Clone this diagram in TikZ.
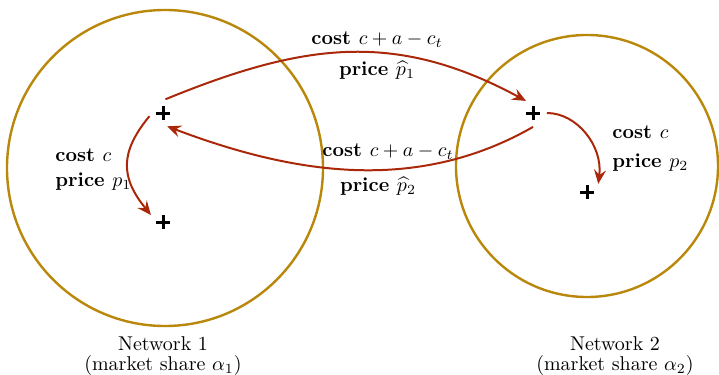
\documentclass[tikz,border=0pt]{standalone}
\usepackage{amsmath}
\usepackage{tikz}
\usetikzlibrary{arrows, arrows.meta, calc}
\definecolor{dorado}{RGB}{185,135,10}
\definecolor{rojizo}{RGB}{170,40,10}
\tikzset{>={Stealth[length=7pt, width=6pt, inset=2.5pt]}}
\tikzset{
  punto/.style={circle, minimum size=0.49cm, inner sep=0pt, outer sep=0pt,
    path picture={
      \draw[line width=1.5pt] ($(path picture bounding box.center)+(-3.6pt,0)$) -- ++(7.2pt,0);
      \draw[line width=1.5pt] ($(path picture bounding box.center)+(0,-3.6pt)$) -- ++(0,7.2pt);}},
  flujo/.style={->, rojizo, line width=1pt},
  etiqueta/.style={font=\bfseries, inner sep=1pt}
}

\begin{document}
\begin{tikzpicture}[x=0.0176cm, y=0.0176cm]
        \useasboundingbox (0,0) rectangle (719,374);
        % Networks
        \draw[dorado, line width=1.2pt] (165,206) circle[radius=158];
        \draw[dorado, line width=1.2pt] (587,208) circle[radius=131];
        \node[align=center] (n1) at (163,18) {Network 1\\[-2pt](market share $\alpha_1$)};
        \node[align=center] (n2) at (615,18) {Network 2\\[-2pt](market share $\alpha_2$)};
        % Customers
        \node[punto] (a1) at (163,261) {};
        \node[punto] (b1) at (163,152) {};
        \node[punto] (a2) at (533,261) {};
        \node[punto] (b2) at (587,182) {};
        % Calls between networks
        \draw[flujo] (a1.80) .. controls (303,331) and (395,344) .. (a2.120);
        \draw[flujo] (a2.-90) .. controls (416,180) and (293,200) .. (a1.-73);
        \node[etiqueta] (c12) at (377,334) {cost $c+a-c_t$};
        \node[etiqueta] (p12) at (377,304) {price $\widehat{p}_1$};
        \node[etiqueta] (c21) at (388,222) {cost $c+a-c_t$};
        \node[etiqueta] (p21) at (378,188) {price $\widehat{p}_2$};
        % Calls within a network
        \draw[flujo] (a1.193) .. controls (120,222) and (120,197) .. (b1.150);
        \draw[flujo] (a2.0) .. controls (577,261) and (603,228) .. (b2.36);
        \node[etiqueta, anchor=west] (c1) at (53,219) {cost $c$};
        \node[etiqueta, anchor=west] (p1) at (53,192) {price $p_1$};
        \node[etiqueta, anchor=west] (c2) at (610,242) {cost $c$};
        \node[etiqueta, anchor=west] (p2) at (610,211) {price $p_2$};
      \end{tikzpicture}
\end{document}
